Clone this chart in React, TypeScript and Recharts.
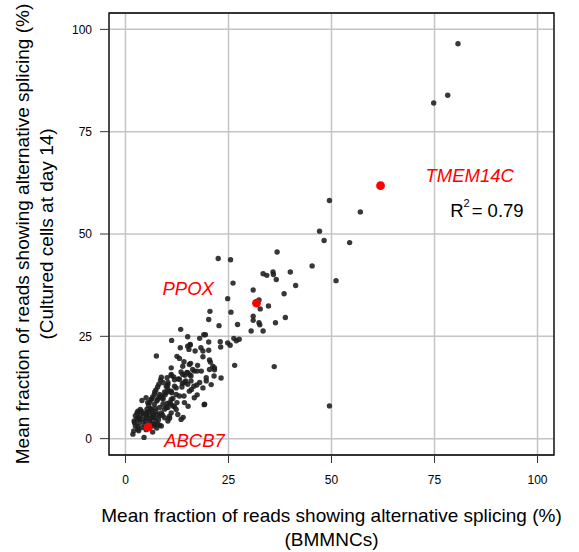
import React from 'react';
import {
  ScatterChart,
  Scatter,
  XAxis,
  YAxis,
  CartesianGrid,
  ReferenceArea,
  ReferenceDot,
} from 'recharts';

// BMMNCs (x) vs cultured cells at day 14 (y), mean % of reads with alternative splicing
const bmmncPct: number[] = [
  80.7, 78.2, 74.8,
  49.5, 57.0, 47.1, 48.2, 54.4,
  36.8, 45.3, 51.1, 22.5, 25.5,
  40.0, 33.4, 34.3, 35.8, 35.9, 36.6, 41.3,
  26.1, 38.5, 31.0, 24.8, 32.4, 34.7, 32.7,
  25.6, 20.5, 20.2, 31.0, 31.0, 32.4, 32.6,
  36.4, 38.8, 22.7, 27.2, 30.5, 33.4,
  13.4, 15.1, 11.2, 18.0, 19.0, 19.4, 20.2,
  15.7, 13.3, 15.1, 15.4, 15.7, 16.9, 18.3, 18.8, 20.2,
  23.0, 23.1, 24.8, 25.4, 26.3, 26.9, 27.6,
  7.5, 12.5, 13.1, 14.2, 15.8, 17.5, 18.8, 20.4, 20.6, 21.2, 21.6, 26.5,
  36.1, 49.5,
  20.4, 21.6, 21.5, 23.2, 19.6, 17.4, 16.7, 14.9, 13.5, 15.6, 14.4, 11.1, 11.7, 12.8,
  14.6, 13.8, 15.1, 13.7, 15.9, 17.3, 16.6, 18.8, 16.0, 17.4, 14.2, 15.2, 19.1,
  8.7, 8.5, 8.1, 7.8, 7.4, 7.1, 9.9, 10.2, 10.6, 11.2, 12.3, 11.5, 12.5, 11.0, 10.1,
  9.1, 9.6, 8.1, 6.6, 6.3, 5.8, 5.6, 4.0, 5.2, 3.9, 3.0, 2.4, 2.1, 2.4, 1.8, 3.2, 4.5,
  6.6, 7.0, 8.3, 10.7, 12.7, 14.0,
  4.2, 5.0, 5.8, 6.6, 7.4, 8.3, 9.1, 3.4, 4.6, 5.8, 7.0, 7.8, 8.7, 9.5, 10.3, 11.1, 11.9,
  4.0, 2.8, 3.7, 4.9, 6.2, 7.0, 7.6, 8.7, 9.5, 10.3, 9.1,
  2.0, 3.0, 2.2, 3.4, 2.8, 3.6, 6.2, 7.8, 8.3, 10.1, 11.1, 11.9, 12.3, 13.1, 14.3,
  15.5, 16.7, 19.2, 18.0, 15.9, 20.8, 19.6, 13.9, 15.5,
  6.6, 7.4, 7.8, 7.0, 8.7, 8.3, 9.5, 10.3, 10.7, 11.1, 9.9, 11.5, 10.7, 12.3, 13.5,
  6.2, 5.4, 7.0, 5.0, 9.1, 9.9, 11.1, 10.3, 11.9, 13.1, 14.3, 13.9, 15.1, 16.3, 18.4, 11.1,
  5.2, 6.0, 6.8, 5.5, 4.4, 6.4, 7.2, 8.0, 5.0, 3.0, 9.0, 6.0, 7.6, 4.8, 3.2,
];

const culturedPct: number[] = [
  96.5, 83.9, 82.0,
  58.2, 55.4, 50.7, 48.4, 47.9,
  45.6, 42.2, 38.6, 44.0, 43.7,
  40.7, 40.3, 39.9, 40.7, 40.1, 38.9, 37.4,
  38.0, 35.4, 36.3, 34.2, 33.9, 32.4, 31.7,
  30.9, 31.1, 29.1, 29.9, 28.9, 28.3, 27.8,
  28.3, 29.6, 27.6, 27.9, 26.3, 26.3,
  26.7, 24.9, 24.0, 24.5, 25.4, 25.4, 23.6,
  23.0, 22.2, 22.6, 21.8, 22.9, 21.4, 22.2, 21.4, 21.6,
  23.7, 22.4, 23.4, 22.8, 24.5, 23.9, 24.3,
  20.2, 20.1, 19.6, 18.8, 18.4, 17.9, 20.0, 19.2, 18.7, 17.7, 17.3, 17.9,
  17.6, 8.0,
  16.9, 16.8, 15.3, 14.8, 14.1, 16.5, 16.5, 16.2, 16.3, 15.6, 15.5, 15.4, 15.1, 14.6,
  14.1, 13.5, 13.3, 12.6, 14.1, 13.1, 12.8, 12.4, 12.0, 10.7, 10.4, 7.9, 8.3,
  15.0, 14.3, 13.3, 12.6, 11.9, 11.4, 12.8, 12.3, 11.6, 11.2, 10.8, 9.8, 8.8, 8.5, 8.6,
  9.6, 10.7, 10.0, 10.2, 9.6, 8.8, 8.1, 9.3, 7.2, 6.7, 6.7, 5.6, 4.3, 3.1, 1.1, 1.9, 0.3,
  1.6, 3.5, 3.3, 5.0, 5.9, 5.2,
  4.7, 5.1, 5.9, 6.3, 6.7, 7.6, 8.4, 3.9, 3.5, 4.3, 5.1, 5.9, 6.3, 7.2, 7.6, 9.6, 7.8,
  2.7, 4.9, 5.7, 6.2, 7.3, 8.4, 9.2, 10.4, 11.4, 13.7, 13.7,
  1.9, 2.3, 3.9, 4.7, 6.3, 7.1, 7.1, 9.6, 10.8, 14.9, 15.7, 14.4, 12.4, 10.4, 8.8,
  11.6, 10.0, 8.4, 13.7, 15.3, 13.2, 14.9, 17.7, 18.1,
  5.1, 4.3, 3.5, 3.1, 3.1, 5.5, 5.1, 4.3, 5.5, 6.3, 7.6, 8.0, 8.8, 7.1, 4.7,
  9.6, 8.8, 10.8, 10.0, 10.0, 11.2, 11.6, 13.2, 12.8, 14.5, 13.7, 15.7, 16.1, 16.9, 16.5, 17.3,
  5.5, 4.8, 5.8, 6.6, 6.0, 3.8, 7.4, 4.6, 2.2, 3.0, 5.8, 2.8, 2.6, 4.2, 5.2,
];

// highlighted genes
const geneNames: string[] = ['TMEM14C', 'PPOX', 'ABCB7'];
const geneBmmnc: number[] = [61.9, 31.8, 5.5];
const geneCultured: number[] = [61.8, 33.1, 2.8];

const axisTicks: number[] = [0, 25, 50, 75, 100];
const rSquared = '0.79';

const points = bmmncPct.map((x, i) => ({ x, y: culturedPct[i] }));
const genes = geneNames.map((name, i) => ({ name, x: geneBmmnc[i], y: geneCultured[i] }));

// where each gene name sits relative to its dot (px)
const geneLabelOffset: Record<string, { dx: number; dy: number }> = {
  TMEM14C: { dx: 45, dy: -4 },
  PPOX: { dx: -94, dy: -8 },
  ABCB7: { dx: 16, dy: 20 },
};

const FONT = '"Liberation Sans", Arial, Helvetica, sans-serif';

const BlackDot = (props: any) => (
  <circle cx={props.cx} cy={props.cy} r={2.7} fill="#1c1c1c" fillOpacity={0.88} />
);

const GeneDot = (props: any) => {
  const off = geneLabelOffset[props.payload.name];
  return (
    <g>
      <circle cx={props.cx} cy={props.cy} r={4.4} fill="#ff0000" />
      <text
        x={props.cx + off.dx}
        y={props.cy + off.dy}
        fill="#ff0000"
        fontSize={18.5}
        fontStyle="italic"
        fontFamily={FONT}
      >
        {props.payload.name}
      </text>
    </g>
  );
};

const XTitle = (props: any) => {
  const { x, y, width } = props.viewBox;
  const cx = x + width / 2;
  return (
    <text textAnchor="middle" fontSize={19} fill="#000" fontFamily={FONT}>
      <tspan x={cx} y={y + 66.5}>
        Mean fraction of reads showing alternative splicing (%)
      </tspan>
      <tspan x={cx} y={y + 91}>
        (BMMNCs)
      </tspan>
    </text>
  );
};

const YTitle = (props: any) => {
  const { y, height } = props.viewBox;
  const cy = y + height / 2;
  return (
    <g fontSize={19} fill="#000" fontFamily={FONT}>
      <text x={29} y={cy} textAnchor="middle" transform={`rotate(-90, 29, ${cy})`}>
        Mean fraction of reads showing alternative splicing (%)
      </text>
      <text x={53} y={cy} textAnchor="middle" transform={`rotate(-90, 53, ${cy})`}>
        (Cultured cells at day 14)
      </text>
    </g>
  );
};

const R2Label = (props: any) => {
  const { x, y } = props.viewBox;
  return (
    <text x={x} y={y} fontSize={18.5} fill="#000" fontFamily={FONT}>
      R
      <tspan dy={-10} fontSize={11}>
        2
      </tspan>
      <tspan dy={10} dx={2} fontSize={18.5}>
        = {rSquared}
      </tspan>
    </text>
  );
};

export default function App() {
  return (
    <div style={{ position: 'absolute', left: 0, top: 0, width: 579, height: 552, background: '#fff', fontFamily: FONT }}>
      <ScatterChart width={579} height={552} margin={{ top: 13, right: 25, bottom: 0, left: 0 }}>
        <CartesianGrid stroke="#c4c4c4" strokeWidth={1.5} />
        <XAxis
          type="number"
          dataKey="x"
          domain={[-4, 104]}
          ticks={axisTicks}
          allowDataOverflow
          height={97}
          axisLine={false}
          tickSize={8}
          tickMargin={12}
          tickLine={{ stroke: '#333' }}
          tick={{ fill: '#000', fontSize: 12 }}
          label={{ content: XTitle }}
        />
        <YAxis
          type="number"
          dataKey="y"
          domain={[-4, 104]}
          ticks={axisTicks}
          allowDataOverflow
          width={109}
          axisLine={false}
          tickSize={9}
          tickMargin={8}
          tickLine={{ stroke: '#333' }}
          tick={{ fill: '#000', fontSize: 12 }}
          label={{ content: YTitle }}
        />
        <ReferenceArea x1={-4} x2={104} y1={-4} y2={104} fill="none" stroke="#000" strokeWidth={1.3} />
        <Scatter data={points} shape={BlackDot} isAnimationActive={false} />
        <Scatter data={genes} shape={GeneDot} isAnimationActive={false} />
        <ReferenceDot x={78.8} y={54.2} r={0} fill="none" stroke="none" label={{ content: R2Label }} />
      </ScatterChart>
    </div>
  );
}
